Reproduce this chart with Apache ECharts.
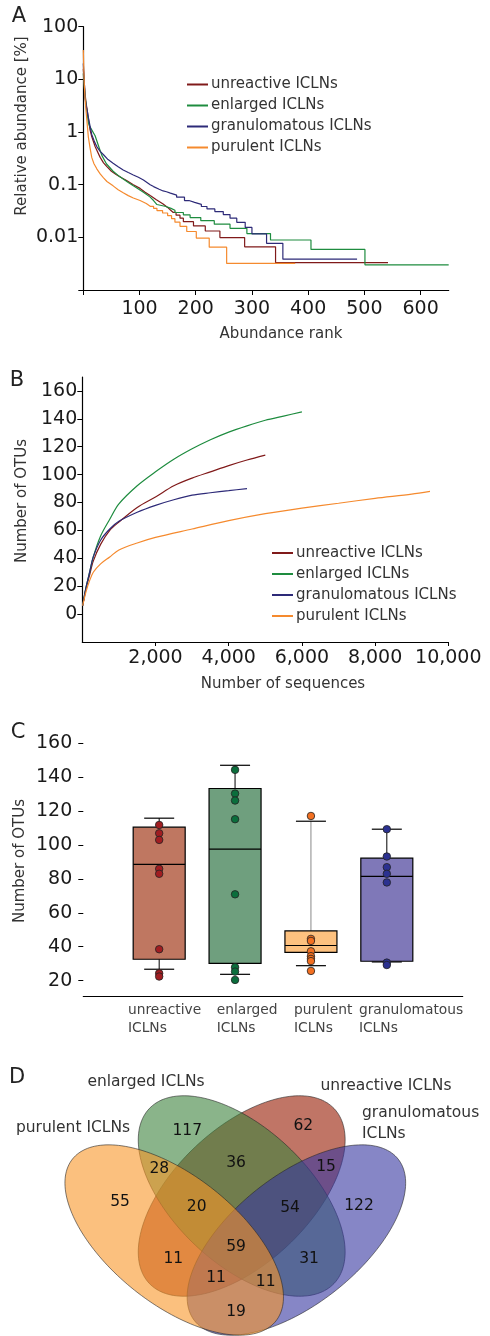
<!DOCTYPE html>
<html><head><meta charset="utf-8">
<script src="https://cdn.jsdelivr.net/npm/echarts@6/dist/echarts.min.js"></script>
<style>html,body{margin:0;padding:0;background:#fff}#chart{width:490px;height:1336px}</style>
</head><body><div id="chart"></div>
<script>
// ---------- DATA ----------
const groupNames = ['unreactive ICLNs', 'enlarged ICLNs', 'granulomatous ICLNs', 'purulent ICLNs'];

// Panel A: rank-abundance curves, [rank, relative abundance %]
const abundanceUnreactive = [[0,16],[2,8],[3,5.5],[5,3.5],[7,2.6],[9,1.8],[12,1.1],[15,0.82],[21,0.53],[30,0.33],[36,0.26],[42,0.22],[50,0.18],[59,0.155],[68,0.135],[77,0.12],[89,0.1],[101,0.085],[110,0.072],[119,0.062],[130,0.052],[142,0.043],[150,0.037],[155,0.033],[160,0.0297],[165,0.0297],[165,0.0264],[172,0.0264],[172,0.0231],[178,0.0231],[178,0.0198],[196,0.0198],[196,0.0165],[217,0.0165],[217,0.0132],[243,0.0132],[243,0.0099],[287,0.0099],[287,0.0066],[342,0.0066],[342,0.0033],[542,0.0033]];
const abundanceEnlarged = [[0,13],[2,7],[3,5],[5,3.2],[7,2.2],[9,1.5],[12,1.25],[15,1.1],[21,0.85],[27,0.55],[33,0.36],[41,0.25],[53,0.18],[62,0.15],[71,0.128],[80,0.11],[89,0.095],[98,0.083],[107,0.072],[119,0.058],[125,0.05],[131,0.042],[131,0.0385],[147,0.0385],[147,0.0355],[156,0.0355],[156,0.0326],[163,0.0326],[163,0.0296],[178,0.0296],[178,0.0266],[190,0.0266],[190,0.0237],[209,0.0237],[209,0.0207],[233,0.0207],[233,0.0178],[261,0.0178],[261,0.0148],[291,0.0148],[291,0.0118],[333,0.0118],[333,0.0089],[405,0.0089],[405,0.0059],[501,0.0059],[501,0.003],[650,0.003]];
const abundanceGranulomatous = [[0,20],[2,8],[3,4.5],[5,3.2],[7,2.5],[9,1.9],[12,1.3],[15,0.9],[20,0.65],[24,0.53],[30,0.43],[36,0.37],[44,0.3],[53,0.256],[62,0.22],[71,0.19],[80,0.17],[89,0.153],[98,0.138],[107,0.123],[119,0.1],[125,0.092],[135,0.082],[142,0.076],[142,0.0735],[148,0.0735],[148,0.0693],[155,0.0693],[155,0.0635],[166,0.0635],[166,0.0578],[180,0.0578],[180,0.05],[188,0.05],[188,0.0462],[198,0.0462],[198,0.0424],[210,0.0424],[210,0.0385],[220,0.0385],[220,0.0347],[234,0.0347],[234,0.0308],[249,0.0308],[249,0.027],[261,0.027],[261,0.0231],[273,0.0231],[273,0.0193],[288,0.0193],[288,0.0154],[300,0.0154],[300,0.0116],[326,0.0116],[326,0.0077],[355,0.0077],[355,0.00385],[487,0.00385]];
const abundancePurulent = [[0,36],[1,14],[2,7],[3,4.5],[5,2.4],[7,1.4],[9,0.8],[12,0.5],[15,0.33],[19,0.25],[24,0.2],[30,0.16],[36,0.135],[42,0.115],[53,0.095],[62,0.08],[71,0.07],[80,0.062],[89,0.056],[101,0.05],[112,0.044],[119,0.0388],[125,0.0388],[125,0.0355],[131,0.0355],[131,0.0323],[141,0.0323],[141,0.029],[150,0.029],[150,0.0258],[157,0.0258],[157,0.0226],[163,0.0226],[163,0.0194],[172,0.0194],[172,0.0162],[184,0.0162],[184,0.0129],[201,0.0129],[201,0.0097],[224,0.0097],[224,0.0065],[255,0.0065],[255,0.0032],[377,0.0032]];
const rankTicks = [0,100,200,300,400,500,600];
const rankLabels = [100,200,300,400,500,600];

// Panel B: rarefaction curves, [number of sequences, number of OTUs]
const rarefactionUnreactive = [[10,6],[100,18],[200,28],[300,38],[500,50],[750,60],[1000,66],[1500,76.5],[2000,84],[2500,92],[3000,97.5],[3500,102],[4000,106.5],[4500,110.5],[5000,114]];
const rarefactionEnlarged = [[10,6],[100,19],[200,30],[300,41],[500,56],[750,68],[1000,79],[1500,92],[2000,102],[2500,111],[3000,118.5],[3500,125],[4000,130.5],[4500,135],[5000,139],[5500,142],[6000,145]];
const rarefactionGranulomatous = [[10,6],[100,19],[200,30],[300,41],[500,53],[750,61],[1000,66.5],[1500,73],[2000,78],[2500,82],[3000,85.3],[3500,87],[4000,88.5],[4500,90]];
const rarefactionPurulent = [[10,6],[100,16],[200,24],[300,30],[500,36],[750,41],[1000,46],[1500,51],[2000,55],[3000,61],[4000,67],[5000,72],[6000,76],[7000,79.5],[8000,83],[9000,86],[9500,88]];
const otuTicksB = [0,20,40,60,80,100,120,140,160];

// Panel C: box plots [category index, whisker low, Q1, median, Q3, whisker high]
const boxCategories = ['', 'unreactive\nICLNs', 'enlarged\nICLNs', 'purulent\nICLNs', 'granulomatous\nICLNs', ''];
const boxStats = [
  [1, 26.7, 32.6, 88.6, 110.5, 115.8],
  [2, 23.7, 30.2, 97.5, 133.3, 147],
  [3, 28.8, 36.7, 40.7, 49.3, 114],
  [4, 31, 31.4, 81.5, 92.2, 109.3]
];
const otusUnreactive = [111.8, 106.9, 103, 85.9, 83, 38.5, 24.3, 22.4];
const otusEnlarged = [144.3, 130.3, 126.2, 115.2, 70.9, 27.9, 25.3, 20.4];
const otusPurulent = [117.1, 44.6, 43.4, 37.3, 34.4, 32.8, 31.5, 25.7];
const otusGranulomatous = [109.3, 93.2, 86.9, 83, 77.9, 30.6, 29.2];
const otuTicksC = [20,40,60,80,100,120,140,160];

// Panel D: Venn counts
const vennSets = ['purulent ICLNs', 'enlarged ICLNs', 'unreactive ICLNs', 'granulomatous\nICLNs'];
const vennCounts = [55, 117, 28, 36, 62, 15, 20, 54, 122, 59, 11, 31, 11, 11, 19];

// ---------- STYLE / LAYOUT ----------
const lineColors = ['#801a1a', '#1e8c3f', '#2d2a78', '#f58a2e'];
const boxFill = ['#bf7761', '#6f9f7e', '#fdc17f', '#7f78b8'];
const dotFill = ['#a11d21', '#0b6e3c', '#f37021', '#2b3190'];
const whiskerTopColor = ['#000', '#000', '#888', '#000'];
const FONT = '"DejaVu Sans", sans-serif';
const tickLabel = {fontFamily: FONT, fontSize: 19, color: '#1a1a1a'};
const axisLineStyle = {onZero: false, lineStyle: {color: '#000', width: 1.2}};

// Venn ellipse layout (pixel geometry)
const vennEllipses = [ // draw order: unreactive, enlarged, granulomatous, purulent
  {cx: 241.7, cy: 1196, a: 127.2, b: 67.6, rot: -43.4, fill: 'rgba(150,25,0,0.6)'},
  {cx: 241.7, cy: 1196, a: 127.2, b: 67.6, rot: 43.4, fill: 'rgba(60,130,60,0.6)'},
  {cx: 296.4, cy: 1240, a: 130, b: 64, rot: -38.5, fill: 'rgba(53,53,160,0.6)'},
  {cx: 174.2, cy: 1240, a: 130, b: 64, rot: 38.5, fill: 'rgba(248,150,40,0.6)'}
];
const vennCountPos = [[120,1201.7],[187.3,1130.7],[159.3,1169.3],[236,1163.3],[303.3,1125.7],[326,1166.7],[196.7,1206.7],[290,1208.3],[359,1205.7],[236,1246.7],[173.3,1259.3],[309,1259.3],[216,1278.3],[265.7,1282.3],[236,1311.7]];
const vennSetPos = [[73,1128,'center'],[146,1082,'center'],[386,1086,'center'],[362,1123.5,'left']];

function ellipsePts(e) {
  const pts = [], t = e.rot * Math.PI / 180, c = Math.cos(t), s = Math.sin(t);
  for (let i = 0; i < 180; i++) {
    const u = i / 180 * Math.PI * 2;
    const px = e.a * Math.cos(u), py = e.b * Math.sin(u);
    pts.push([e.cx + px * c - py * s, e.cy + px * s + py * c]);
  }
  return pts;
}

const graphics = [];
function txt(text, x, y, size, extra, color) {
  graphics.push(Object.assign({type: 'text', x: x, y: y, silent: true,
    style: {text: text, fontFamily: FONT, fontSize: size, fill: color || '#333', align: 'center', verticalAlign: 'middle'}}, extra || {}));
}
// panel letters
txt('A', 19, 17, 21, null, '#222');
txt('B', 17, 381, 21, null, '#222');
txt('C', 18, 733, 21, null, '#222');
txt('D', 17, 1078, 21, null, '#222');
// axis titles
txt('Relative abundance [%]', 22, 126, 15, {rotation: Math.PI / 2});
txt('Abundance rank', 281, 334, 15);
txt('Number of OTUs', 22, 501, 15, {rotation: Math.PI / 2});
txt('Number of sequences', 283, 684, 15);
txt('Number of OTUs', 20, 861, 15, {rotation: Math.PI / 2});
// venn
vennEllipses.forEach(function (e, i) {
  graphics.push({type: 'polygon', silent: true, z: 10 + i, shape: {points: ellipsePts(e)},
    style: {fill: e.fill, stroke: 'rgba(40,40,40,0.75)', lineWidth: 0.8}});
});
vennCounts.forEach(function (v, i) {
  graphics.push({type: 'text', silent: true, z: 30, x: vennCountPos[i][0], y: vennCountPos[i][1],
    style: {text: String(v), fontFamily: FONT, fontSize: 15.5, fill: '#111', align: 'center', verticalAlign: 'middle'}});
});
vennSets.forEach(function (n, i) {
  graphics.push({type: 'text', silent: true, z: 30, x: vennSetPos[i][0], y: vennSetPos[i][1],
    style: {text: n, fontFamily: FONT, fontSize: 15.5, lineHeight: 21, fill: '#333', align: vennSetPos[i][2], verticalAlign: 'middle'}});
});

const abundanceSeries = [abundanceUnreactive, abundanceEnlarged, abundanceGranulomatous, abundancePurulent];
const rarefactionSeries = [rarefactionUnreactive, rarefactionEnlarged, rarefactionGranulomatous, rarefactionPurulent];
const dotsByGroup = [otusUnreactive, otusEnlarged, otusPurulent, otusGranulomatous];

const series = [];
abundanceSeries.forEach(function (d, i) {
  series.push({type: 'line', name: groupNames[i], xAxisIndex: 0, yAxisIndex: 0, data: d,
    showSymbol: false, symbol: 'none', lineStyle: {width: 1.2, color: lineColors[i]}, itemStyle: {color: lineColors[i]}, z: 2});
});
rarefactionSeries.forEach(function (d, i) {
  series.push({type: 'line', name: groupNames[i], xAxisIndex: 1, yAxisIndex: 1, data: d, smooth: 0.3,
    showSymbol: false, symbol: 'none', lineStyle: {width: 1.2, color: lineColors[i]}, itemStyle: {color: lineColors[i]}, z: 2});
});
series.push({type: 'custom', name: 'boxes', xAxisIndex: 2, yAxisIndex: 2, data: boxStats,
  encode: {x: 0, y: [1, 2, 3, 4, 5]}, z: 2,
  renderItem: function (params, api) {
    const k = params.dataIndex;
    const xi = api.value(0);
    const p = [1, 2, 3, 4, 5].map(function (j) { return api.coord([xi, api.value(j)]); });
    const cx = p[0][0], lo = p[0][1], q1 = p[1][1], md = p[2][1], q3 = p[3][1], hi = p[4][1];
    const hw = 26, cw = 15, lw = 1.2;
    return {type: 'group', children: [
      {type: 'line', shape: {x1: cx, y1: q3, x2: cx, y2: hi}, style: {stroke: whiskerTopColor[k], lineWidth: 1}},
      {type: 'line', shape: {x1: cx, y1: q1, x2: cx, y2: lo}, style: {stroke: '#000', lineWidth: 1}},
      {type: 'line', shape: {x1: cx - cw, y1: hi, x2: cx + cw, y2: hi}, style: {stroke: '#000', lineWidth: lw}},
      {type: 'line', shape: {x1: cx - cw, y1: lo, x2: cx + cw, y2: lo}, style: {stroke: '#000', lineWidth: lw}},
      {type: 'rect', shape: {x: cx - hw, y: q3, width: 2 * hw, height: q1 - q3}, style: {fill: boxFill[k], stroke: '#000', lineWidth: lw}},
      {type: 'line', shape: {x1: cx - hw, y1: md, x2: cx + hw, y2: md}, style: {stroke: '#000', lineWidth: lw}}
    ]};
  }
});
dotsByGroup.forEach(function (vals, g) {
  series.push({type: 'scatter', name: 'dots' + g, xAxisIndex: 2, yAxisIndex: 2, z: 5,
    data: vals.map(function (v) { return [g + 1, v]; }), symbolSize: 7.5,
    itemStyle: {color: dotFill[g], borderColor: '#222', borderWidth: 0.8, opacity: 1}});
});

const legendBase = {orient: 'vertical', icon: 'rect', itemWidth: 21, itemHeight: 2, itemGap: 1, padding: 0,
  data: groupNames, selectedMode: false,
  textStyle: {fontFamily: FONT, fontSize: 15, color: '#333', lineHeight: 20, padding: [0, 0, 0, -2]}};

const rich = {};
const richW = [62.4, 36.8, 34, 55.8];
richW.forEach(function (w, i) {
  rich['c' + (i + 1)] = {width: w, align: 'left', fontFamily: FONT, fontSize: 13.8, color: '#444', lineHeight: 18};
});

const option = {
  animation: false,
  backgroundColor: '#fff',
  grid: [
    {left: 83.3, top: 26.7, width: 365.4, height: 263.3},
    {left: 82.3, top: 377, width: 366, height: 265},
    {left: 83.3, top: 740.7, width: 379.4, height: 256}
  ],
  legend: [
    Object.assign({}, legendBase, {left: 187, top: 74.5}),
    Object.assign({}, legendBase, {left: 272, top: 543})
  ],
  xAxis: [
    {type: 'value', gridIndex: 0, min: 0, max: 650, interval: 100, axisLine: axisLineStyle,
      axisTick: {show: true, length: 5, lineStyle: {color: '#000'}, customValues: rankTicks},
      axisLabel: Object.assign({margin: 10, customValues: rankLabels}, tickLabel), splitLine: {show: false}},
    {type: 'value', gridIndex: 1, min: 0, max: 10000, interval: 2000, axisLine: axisLineStyle,
      axisTick: {show: true, length: 4, lineStyle: {color: '#000'}},
      axisLabel: Object.assign({margin: 7, showMinLabel: false,
        formatter: function (v) { return v === 0 ? '' : v.toString().replace(/\B(?=(\d{3})+(?!\d))/g, ','); }}, tickLabel),
      splitLine: {show: false}},
    {type: 'category', gridIndex: 2, data: boxCategories, boundaryGap: false, axisLine: axisLineStyle,
      axisTick: {show: false},
      axisLabel: {interval: 0, margin: 5, fontFamily: FONT, fontSize: 13.8, color: '#444', lineHeight: 18, rich: rich,
        formatter: function (v, i) {
          if (!v) return '';
          return v.split('\n').map(function (l) { return '{c' + i + '|' + l + '}'; }).join('\n');
        }},
      splitLine: {show: false}}
  ],
  yAxis: [
    {type: 'log', gridIndex: 0, min: 0.001, max: 100, logBase: 10, axisLine: axisLineStyle,
      axisTick: {show: true, length: 5, lineStyle: {color: '#000'}},
      axisLabel: Object.assign({margin: 5, formatter: function (v) {
        if (v < 0.005) return '';
        return String(Number(v.toPrecision(1)));
      }}, tickLabel), splitLine: {show: false}, minorTick: {show: false}},
    {type: 'value', gridIndex: 1, min: -20, max: 170, axisLine: axisLineStyle,
      axisTick: {show: true, length: 5, lineStyle: {color: '#000'}, customValues: otuTicksB},
      axisLabel: Object.assign({margin: 5, customValues: otuTicksB}, tickLabel), splitLine: {show: false}},
    {type: 'value', gridIndex: 2, min: 10.5, max: 161.5, axisLine: axisLineStyle,
      axisTick: {show: true, length: 5, lineStyle: {color: '#000'}, customValues: otuTicksC},
      axisLabel: Object.assign({margin: 11, customValues: otuTicksC}, tickLabel), splitLine: {show: false}}
  ],
  graphic: {elements: graphics},
  series: series
};

const chart = echarts.init(document.getElementById('chart'), null, {renderer: 'canvas'});
chart.setOption(option);
</script></body></html>
